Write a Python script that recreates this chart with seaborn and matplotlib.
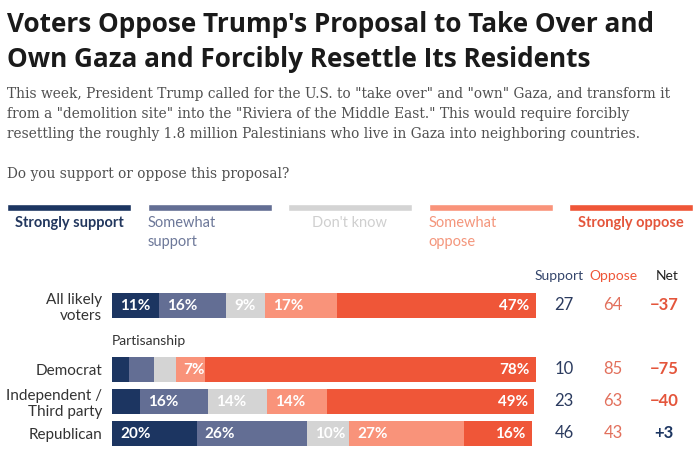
import matplotlib
matplotlib.use("Agg")
import matplotlib.pyplot as plt
import pandas as pd
import seaborn as sns

# data
groups = ["All likely\nvoters", "Democrat", "Independent /\nThird party", "Republican"]
responses = ["Strongly support", "Somewhat support", "Don't know", "Somewhat oppose", "Strongly oppose"]
strongly_support = [11, 4, 6.6, 20]
somewhat_support = [16, 6, 16, 26]
dont_know = [9, 5, 14, 10]
somewhat_oppose = [17, 7, 14, 27]
strongly_oppose = [47, 78, 49, 16]
support_total = [27, 10, 23, 46]
oppose_total = [64, 85, 63, 43]
net = [-37, -75, -40, 3]

colors = ["#1c3561", "#636e94", "#d4d4d4", "#f9937a", "#ef5638"]
text_colors = ["#22375e", "#6d7899", "#cfcfcf", "#f4967c", "#e4553b"]

title_lines = ["Voters Oppose Trump's Proposal to Take Over and",
               "Own Gaza and Forcibly Resettle Its Residents"]
sub_lines = ['This week, President Trump called for the U.S. to "take over" and "own" Gaza, and transform it',
             'from a "demolition site" into the "Riviera of the Middle East." This would require forcibly',
             'resettling the roughly 1.8 million Palestinians who live in Gaza into neighboring countries.']
question = "Do you support or oppose this proposal?"

df = pd.DataFrame({"group": groups,
                   "Strongly support": strongly_support,
                   "Somewhat support": somewhat_support,
                   "Don't know": dont_know,
                   "Somewhat oppose": somewhat_oppose,
                   "Strongly oppose": strongly_oppose})
cum = df[responses].cumsum(axis=1)
for r in responses:
    df["cum " + r] = cum[r]

order = ["All likely\nvoters", " ", "Democrat", "Independent /\nThird party", "Republican"]

sns.set_style("white")
plt.rcParams["font.family"] = ["Lato", "DejaVu Sans"]

W, H = 700, 450
fig = plt.figure(figsize=(7, 4.5), dpi=100)
renderer = fig.canvas.get_renderer()


def px(x, y):
    return x / W, 1 - y / H


def fit_width(t, target):
    # scale font so the line spans the same width as in the reference
    w = t.get_window_extent(renderer).width
    t.set_fontsize(t.get_fontsize() * target / w)


# titles
t = fig.text(*px(7, 32), title_lines[0], fontsize=18, fontweight="bold",
             family="Open Sans", color="#1a1a1a", va="baseline", ha="left")
fit_width(t, 648)
fs_title = t.get_fontsize()
fig.text(*px(7, 67), title_lines[1], fontsize=fs_title, fontweight="bold",
         family="Open Sans", color="#1a1a1a", va="baseline", ha="left")

t = fig.text(*px(7, 98), sub_lines[0], fontsize=11, family="DejaVu Serif",
             color="#505050", va="baseline", ha="left")
fit_width(t, 665)
fs_sub = t.get_fontsize()
for i, line in enumerate(sub_lines[1:], start=1):
    fig.text(*px(7, 98 + 20 * i), line, fontsize=fs_sub, family="DejaVu Serif",
             color="#505050", va="baseline", ha="left")
fig.text(*px(7, 178), question, fontsize=fs_sub, family="DejaVu Serif",
         color="#505050", va="baseline", ha="left")

# legend swatches
lax = fig.add_axes([7 / W, 1 - 211 / H, 686 / W, 7 / H])
for i, r in enumerate(responses):
    lax.barh(0.5, 124, left=i * 140.5, height=1, color=colors[i])
lax.set_xlim(0, 686)
lax.set_ylim(0, 1)
lax.axis("off")
for i, r in enumerate(responses):
    x0 = 7 + i * 140.5
    if r.startswith("Somewhat"):
        fig.text(*px(x0, 216), r.replace(" ", "\n"), fontsize=10.5, color=text_colors[i],
                 ha="left", va="top", linespacing=1.45)
    else:
        fig.text(*px(x0 + 62, 216), r, fontsize=10.5, color=text_colors[i],
                 ha="center", va="top", fontweight="bold" if i in (0, 4) else "normal")

# stacked bars
ax = fig.add_axes([112 / W, 0.5 / H, 424 / W, 160 / H])
for i in reversed(range(len(responses))):
    sns.barplot(data=df, x="cum " + responses[i], y="group", order=order,
                color=colors[i], saturation=1, width=0.81, linewidth=0,
                errorbar=None, ax=ax)
ax.set_xlim(0, 100)
ax.set_ylim(4.5, -0.5)
ax.set_xlabel("")
ax.set_ylabel("")
ax.set_xticks([])
ax.tick_params(axis="y", length=0, pad=7, labelsize=11, labelcolor="#333333")
sns.despine(ax=ax, left=True, bottom=True)

for g, grp in enumerate(groups):
    row = order.index(grp)
    for i, r in enumerate(responses):
        val = df.loc[g, r]
        end = df.loc[g, "cum " + r]
        if val < 7:
            continue
        if i == 4:
            ax.text(end - 1.5, row, f"{val:.0f}%", color="white", fontsize=11,
                    fontweight="bold", ha="right", va="center")
        else:
            ax.text(end - val + 1.9, row, f"{val:.0f}%", color="white", fontsize=11,
                    fontweight="bold", ha="left", va="center")
    ax.text(106.6, row, str(support_total[g]), color="#2b3b5f", fontsize=12,
            ha="center", va="center", clip_on=False)
    ax.text(118.2, row, str(oppose_total[g]), color="#e2705c", fontsize=12,
            ha="center", va="center", clip_on=False)
    n = net[g]
    ax.text(130.2, row, f"+{n}" if n > 0 else f"\u2212{abs(n)}",
            color="#1c3561" if n > 0 else "#e4553b", fontsize=12, fontweight="bold",
            ha="center", va="center", clip_on=False)

ax.text(105.5, -0.92, "Support", color="#34456b", fontsize=10, ha="center", va="center", clip_on=False)
ax.text(118.2, -0.92, "Oppose", color="#ef5638", fontsize=10, ha="center", va="center", clip_on=False)
ax.text(130.9, -0.92, "Net", color="#222222", fontsize=10, ha="center", va="center", clip_on=False)
ax.text(0, 1.1, "Partisanship", color="#333333", fontsize=10, ha="left", va="center")

fig.savefig("out.png", dpi=100)
